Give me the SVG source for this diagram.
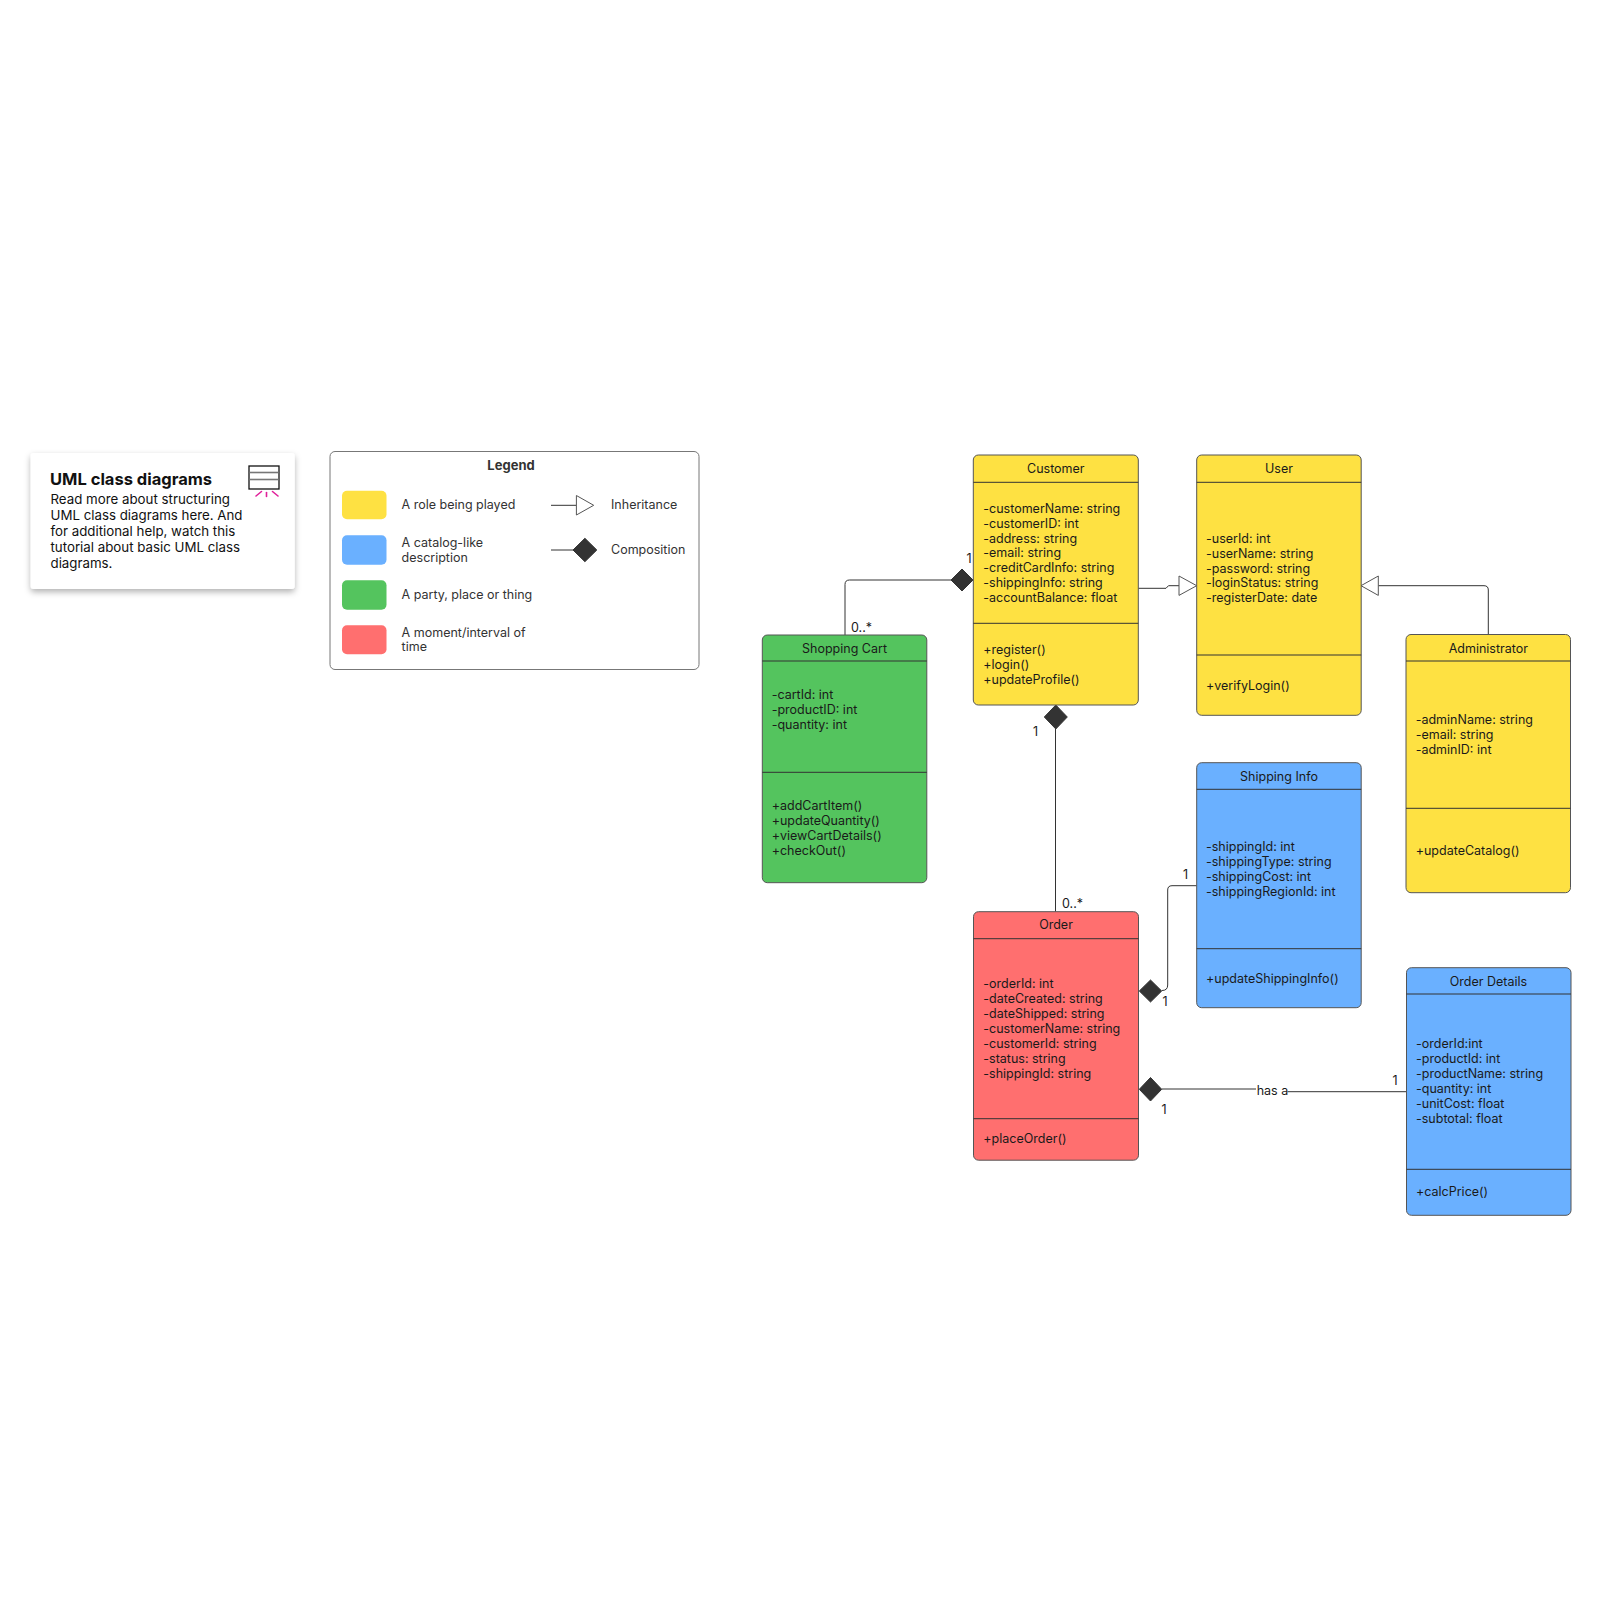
<svg xmlns="http://www.w3.org/2000/svg" width="1600" height="1600" viewBox="0 0 1600 1600">
<defs>
<filter id="shadow" x="-10%" y="-10%" width="120%" height="130%">
<feDropShadow dx="0" dy="3" stdDeviation="3" flood-color="#000" flood-opacity="0.3"/>
</filter>
<style>
text{font-family:Inter,"Noto Sans","Liberation Sans",sans-serif;fill:#1a1a1a;}
.t{font-size:12.5px;}
.h{font-size:12.5px;text-anchor:middle;}
.box{stroke:#555;stroke-width:1;}
.sep{stroke:#333;stroke-width:1;}
.y{fill:#FEE142;}
.b{fill:#6AB0FF;}
.g{fill:#54C45E;}
.r{fill:#FF6F6F;}
.ln{fill:none;stroke:#333;stroke-width:1;}
.dia{fill:#333;stroke:#333;stroke-width:1;}
.tri{fill:#fff;stroke:#555;stroke-width:1;}
.lg{font-size:12.5px;fill:#333;}
</style>
</defs>
<rect width="1600" height="1600" fill="#fff"/>

<g id="uml-card">
<rect x="30.7" y="453" width="264" height="136" rx="3" fill="#fff" filter="url(#shadow)"/>
<text x="50" y="484.5" style="font-size:16.5px;font-weight:700;fill:#111">UML class diagrams</text>
<text x="50.5" style="font-size:13.3px;fill:#111">
<tspan x="50.5" y="504">Read more about structuring</tspan>
<tspan x="50.5" y="520">UML class diagrams here. And</tspan>
<tspan x="50.5" y="536">for additional help, watch this</tspan>
<tspan x="50.5" y="552">tutorial about basic UML class</tspan>
<tspan x="50.5" y="568">diagrams.</tspan>
</text>
<rect x="249" y="466" width="30" height="23" fill="#fff" stroke="#111" stroke-width="1.3"/>
<line x1="249.5" y1="472.5" x2="278.5" y2="472.5" stroke="#777" stroke-width="1.6"/>
<line x1="249.5" y1="479.5" x2="278.5" y2="479.5" stroke="#777" stroke-width="1.6"/>
<g stroke="#E0209A" stroke-width="1.6" stroke-linecap="round">
<line x1="256" y1="496" x2="261.5" y2="491.5"/>
<line x1="266.5" y1="492.5" x2="266.5" y2="496.5"/>
<line x1="272.5" y1="491.5" x2="278" y2="496"/>
</g>
</g>

<g id="legend">
<rect x="330" y="451.5" width="369" height="218" rx="5" fill="#fff" stroke="#777" stroke-width="1"/>
<text x="511" y="470" style="font-size:13px;font-weight:700;fill:#333;text-anchor:middle">Legend</text>
<rect x="342" y="490.7" width="44.5" height="28.6" rx="5" class="y"/>
<rect x="342" y="535.3" width="44.5" height="29.4" rx="5" class="b"/>
<rect x="342" y="580.3" width="44.5" height="29.4" rx="5" class="g"/>
<rect x="342" y="625.3" width="44.5" height="29" rx="5" class="r"/>
<text x="401.6" y="509.3" class="lg">A role being played</text>
<text x="401.6" y="546.7" class="lg">A catalog-like</text>
<text x="401.6" y="561.7" class="lg">description</text>
<text x="401.6" y="599.3" class="lg">A party, place or thing</text>
<text x="401.6" y="636.7" class="lg">A moment/interval of</text>
<text x="401.6" y="651" class="lg">time</text>
<line x1="551" y1="505.3" x2="576.4" y2="505.3" class="ln"/>
<polygon points="576.4,495.5 593.7,505.3 576.4,515" class="tri"/>
<text x="611" y="509.3" class="lg">Inheritance</text>
<line x1="551" y1="550" x2="573" y2="550" class="ln"/>
<polygon points="573,550 584.9,538.3 596.8,550 584.9,561.7" class="dia"/>
<text x="611" y="554" class="lg">Composition</text>
</g>

<g id="connectors">
<path d="M845,635 V584.5 Q845,580 849.5,580 H951" class="ln"/>
<polygon points="951,580 962,569 973,580 962,591" class="dia"/>
<text x="966.5" y="563" class="t">1</text>
<text x="851" y="632" class="t">0..*</text>

<path d="M1138.3,588.3 H1166 L1168.5,585.7 H1179" class="ln" stroke="#555"/>
<polygon points="1179,576 1196.7,585.7 1179,595.4" class="tri"/>

<path d="M1488.3,634.5 V590 Q1488.3,585.7 1484,585.7 H1378.3" class="ln"/>
<polygon points="1378.3,576 1361,585.7 1378.3,595.4" class="tri"/>

<polygon points="1055.8,705 1067.3,717 1055.8,729 1044.3,717" class="dia"/>
<line x1="1055.5" y1="729" x2="1055.5" y2="911.7" class="ln"/>
<text x="1033" y="736" class="t">1</text>
<text x="1062" y="908.3" class="t">0..*</text>

<path d="M1196.7,885.7 H1172 Q1167.7,885.7 1167.7,890 V985 Q1167.7,990.5 1162,990.5" class="ln"/>
<polygon points="1139.3,991 1150.5,980 1161.7,991 1150.5,1002" class="dia"/>
<text x="1183" y="879.3" class="t">1</text>
<text x="1162.5" y="1006" class="t">1</text>

<polygon points="1139.3,1089.3 1150.5,1077.5 1161.7,1089.3 1150.5,1101" class="dia"/>
<line x1="1161.7" y1="1089" x2="1256" y2="1089" class="ln"/>
<text x="1256.7" y="1095" class="t">has a</text>
<line x1="1287.5" y1="1091.7" x2="1406.5" y2="1091.7" class="ln" stroke-width="2"/>
<text x="1392.5" y="1085" class="t">1</text>
<text x="1161.5" y="1114.3" class="t">1</text>
</g>

<g id="customer">
<rect x="973.3" y="455" width="165" height="250" rx="5" class="box y"/>
<line x1="973.3" y1="482.3" x2="1138.3" y2="482.3" class="sep"/>
<line x1="973.3" y1="623.3" x2="1138.3" y2="623.3" class="sep"/>
<text x="1055.8" y="473" class="h">Customer</text>
<text class="t">
<tspan x="983.3" y="512.7">-customerName: string</tspan>
<tspan x="983.3" y="527.6">-customerID: int</tspan>
<tspan x="983.3" y="542.5">-address: string</tspan>
<tspan x="983.3" y="557.4">-email: string</tspan>
<tspan x="983.3" y="572.3">-creditCardInfo: string</tspan>
<tspan x="983.3" y="587.2">-shippingInfo: string</tspan>
<tspan x="983.3" y="602.1">-accountBalance: float</tspan>
</text>
<text class="t">
<tspan x="983.3" y="654">+register()</tspan>
<tspan x="983.3" y="669">+login()</tspan>
<tspan x="983.3" y="684">+updateProfile()</tspan>
</text>
</g>

<g id="user">
<rect x="1196.7" y="455" width="164.5" height="260.3" rx="5" class="box y"/>
<line x1="1196.7" y1="482.3" x2="1361.2" y2="482.3" class="sep"/>
<line x1="1196.7" y1="655" x2="1361.2" y2="655" class="sep"/>
<text x="1279" y="473" class="h">User</text>
<text class="t">
<tspan x="1206" y="542.7">-userId: int</tspan>
<tspan x="1206" y="557.6">-userName: string</tspan>
<tspan x="1206" y="572.5">-password: string</tspan>
<tspan x="1206" y="587.4">-loginStatus: string</tspan>
<tspan x="1206" y="602.3">-registerDate: date</tspan>
</text>
<text x="1206" y="690" class="t">+verifyLogin()</text>
</g>

<g id="administrator">
<rect x="1406" y="634.5" width="164.5" height="258.2" rx="5" class="box y"/>
<line x1="1406" y1="661" x2="1570.5" y2="661" class="sep"/>
<line x1="1406" y1="808.3" x2="1570.5" y2="808.3" class="sep"/>
<text x="1488.3" y="653" class="h">Administrator</text>
<text class="t">
<tspan x="1415.7" y="724">-adminName: string</tspan>
<tspan x="1415.7" y="739">-email: string</tspan>
<tspan x="1415.7" y="754">-adminID: int</tspan>
</text>
<text x="1415.7" y="855" class="t">+updateCatalog()</text>
</g>

<g id="shopping-cart">
<rect x="762.3" y="635" width="164.5" height="247.7" rx="5" class="box g"/>
<line x1="762.3" y1="661" x2="926.8" y2="661" class="sep"/>
<line x1="762.3" y1="772.3" x2="926.8" y2="772.3" class="sep"/>
<text x="844.5" y="653" class="h">Shopping Cart</text>
<text class="t">
<tspan x="771.7" y="699">-cartId: int</tspan>
<tspan x="771.7" y="714">-productID: int</tspan>
<tspan x="771.7" y="729">-quantity: int</tspan>
</text>
<text class="t">
<tspan x="771.7" y="810">+addCartItem()</tspan>
<tspan x="771.7" y="825">+updateQuantity()</tspan>
<tspan x="771.7" y="840">+viewCartDetails()</tspan>
<tspan x="771.7" y="855">+checkOut()</tspan>
</text>
</g>

<g id="shipping-info">
<rect x="1196.7" y="762.7" width="164.5" height="245" rx="5" class="box b"/>
<line x1="1196.7" y1="789.3" x2="1361.2" y2="789.3" class="sep"/>
<line x1="1196.7" y1="948.7" x2="1361.2" y2="948.7" class="sep"/>
<text x="1279" y="780.7" class="h">Shipping Info</text>
<text class="t">
<tspan x="1206" y="851">-shippingId: int</tspan>
<tspan x="1206" y="866">-shippingType: string</tspan>
<tspan x="1206" y="881">-shippingCost: int</tspan>
<tspan x="1206" y="896">-shippingRegionId: int</tspan>
</text>
<text x="1206" y="982.7" class="t">+updateShippingInfo()</text>
</g>

<g id="order">
<rect x="973.5" y="911.7" width="165" height="248.5" rx="5" class="box r"/>
<line x1="973.5" y1="938.7" x2="1138.5" y2="938.7" class="sep"/>
<line x1="973.5" y1="1118.7" x2="1138.5" y2="1118.7" class="sep"/>
<text x="1056" y="929.3" class="h">Order</text>
<text class="t">
<tspan x="983.3" y="988.3">-orderId: int</tspan>
<tspan x="983.3" y="1003.3">-dateCreated: string</tspan>
<tspan x="983.3" y="1018.3">-dateShipped: string</tspan>
<tspan x="983.3" y="1033.3">-customerName: string</tspan>
<tspan x="983.3" y="1048.3">-customerId: string</tspan>
<tspan x="983.3" y="1063.3">-status: string</tspan>
<tspan x="983.3" y="1078.3">-shippingId: string</tspan>
</text>
<text x="983.3" y="1143.3" class="t">+placeOrder()</text>
</g>

<g id="order-details">
<rect x="1406.5" y="967.7" width="164.5" height="247.6" rx="5" class="box b"/>
<line x1="1406.5" y1="994" x2="1571" y2="994" class="sep"/>
<line x1="1406.5" y1="1169.3" x2="1571" y2="1169.3" class="sep"/>
<text x="1488.5" y="985.7" class="h">Order Details</text>
<text class="t">
<tspan x="1416" y="1048.3">-orderId:int</tspan>
<tspan x="1416" y="1063.3">-productId: int</tspan>
<tspan x="1416" y="1078.3">-productName: string</tspan>
<tspan x="1416" y="1093.3">-quantity: int</tspan>
<tspan x="1416" y="1108.3">-unitCost: float</tspan>
<tspan x="1416" y="1123.3">-subtotal: float</tspan>
</text>
<text x="1416" y="1196" class="t">+calcPrice()</text>
</g>
</svg>
